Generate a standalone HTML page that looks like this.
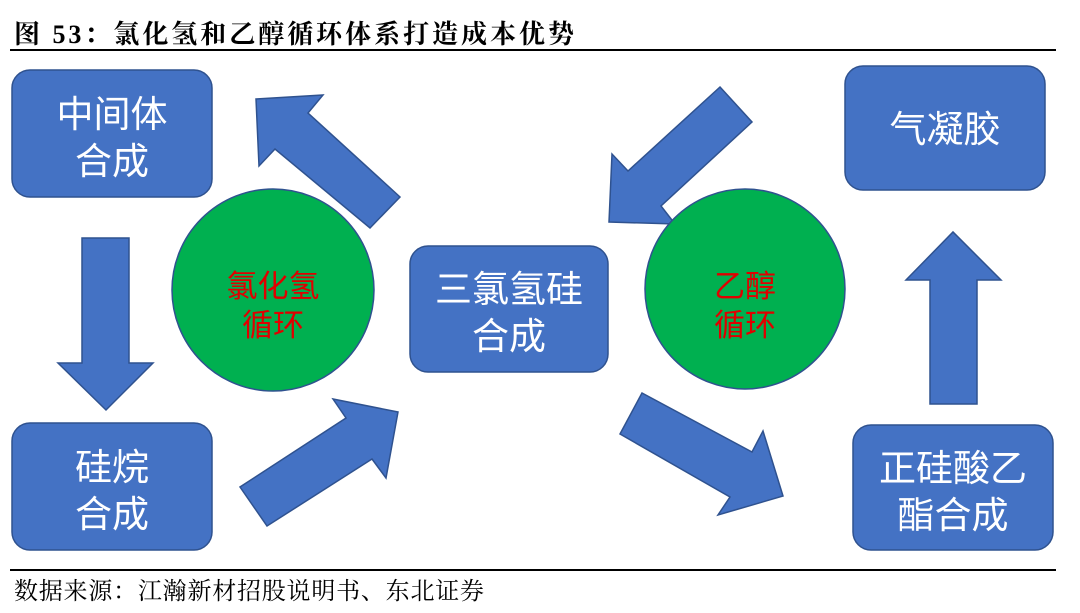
<!DOCTYPE html>
<html><head><meta charset="utf-8"><style>
body{margin:0;background:#fff;width:1080px;height:613px;overflow:hidden}
svg{display:block}
</style></head><body>
<svg width="1080" height="613" viewBox="0 0 1080 613" xmlns="http://www.w3.org/2000/svg">
<text x="14" y="43" textLength="560" lengthAdjust="spacing" font-family="'Liberation Serif','Noto Serif CJK SC',serif" font-size="26" font-weight="bold" fill="#000">图 53：氯化氢和乙醇循环体系打造成本优势</text>
<rect x="10" y="49" width="1046" height="2" fill="#000"/>
<g fill="#4472c4" stroke="#2f528f" stroke-width="1.5">
<rect x="12" y="70" width="200" height="127" rx="18"/>
<rect x="12" y="423" width="200" height="127" rx="18"/>
<rect x="410" y="246" width="198" height="126" rx="18"/>
<rect x="845" y="66" width="200" height="124" rx="18"/>
<rect x="853" y="425" width="200" height="125" rx="18"/>
<polygon points="82,238 129,238 129,363 153,363 106,410 58,363 82,363"/>
<polygon points="930,404 977,404 977,280 1001,280 953,232 906,280 930,280"/>
<polygon points="256,99 323,95 308,113 400,197 370,228 275,149 259,166"/>
<polygon points="720,87 752,122 661,206 675,224 609,222 612,154 628,171"/>
<polygon points="642,393 620,434 730,497 718,515 783,496 763,431 752,452"/>
<polygon points="240,487 267,526 372,459 386,478 398,412 333,399 346,418"/>
</g>
<g fill="#00b050" stroke="#2f528f" stroke-width="1.5">
<circle cx="273" cy="290" r="101"/>
<circle cx="745" cy="289" r="100"/>
</g>
<g font-family="'Liberation Sans','Noto Sans CJK SC',sans-serif" font-size="37" fill="#fff" text-anchor="middle">
<text x="112" y="127">中间体</text><text x="112" y="174">合成</text>
<text x="112" y="480">硅烷</text><text x="112" y="527">合成</text>
<text x="509" y="302">三氯氢硅</text><text x="509" y="349">合成</text>
<text x="945" y="142">气凝胶</text>
<text x="953" y="481">正硅酸乙</text><text x="953" y="528">酯合成</text>
</g>
<g font-family="'Liberation Sans','Noto Sans CJK SC',sans-serif" font-size="31" fill="#e00000" text-anchor="middle">
<text x="273" y="297">氯化氢</text><text x="273" y="336">循环</text>
<text x="745" y="297">乙醇</text><text x="745" y="336">循环</text>
</g>
<rect x="10" y="569" width="1046" height="2" fill="#000"/>
<text x="14" y="599" textLength="470" lengthAdjust="spacing" font-family="'Liberation Serif','Noto Serif CJK SC',serif" font-size="24" fill="#000">数据来源：江瀚新材招股说明书、东北证券</text>
</svg>
</body></html>
